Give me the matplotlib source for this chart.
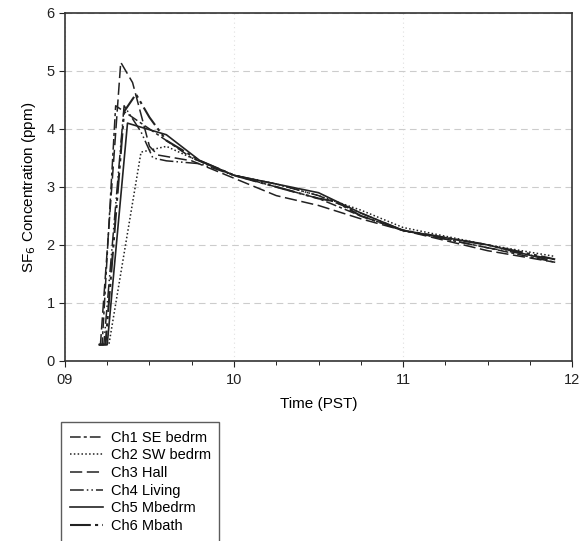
import matplotlib

matplotlib.use("Agg")

import matplotlib.pyplot as plt
from matplotlib.ticker import MultipleLocator, FixedLocator

plt.rcParams["font.family"] = ["Liberation Sans", "DejaVu Sans"]

# Time in decimal hours (PST), concentration in ppm
ch1_t = [9.20, 9.22, 9.30, 9.50, 9.75, 10.00, 10.25, 10.50, 10.75, 11.00, 11.25, 11.50, 11.90]
ch1_c = [0.28, 0.28, 4.40, 4.00, 3.50, 3.20, 3.00, 2.80, 2.50, 2.25, 2.10, 1.95, 1.70]

ch2_t = [9.22, 9.26, 9.45, 9.60, 9.75, 10.00, 10.25, 10.50, 10.75, 11.00, 11.25, 11.50, 11.90]
ch2_c = [0.28, 0.28, 3.60, 3.70, 3.50, 3.20, 3.05, 2.85, 2.60, 2.30, 2.15, 2.00, 1.80]

ch3_t = [9.20, 9.21, 9.33, 9.40, 9.50, 9.55, 9.75, 10.00, 10.25, 10.50, 10.75, 11.00, 11.50, 11.90]
ch3_c = [0.28, 0.28, 5.15, 4.80, 3.70, 3.55, 3.45, 3.15, 2.85, 2.68, 2.45, 2.25, 1.90, 1.70]

ch4_t = [9.20, 9.23, 9.35, 9.45, 9.52, 9.60, 9.80, 10.00, 10.25, 10.50, 10.75, 11.00, 11.25, 11.50, 11.90]
ch4_c = [0.28, 0.28, 4.40, 3.95, 3.50, 3.45, 3.40, 3.20, 3.05, 2.85, 2.55, 2.25, 2.10, 1.95, 1.75]

ch5_t = [9.21, 9.25, 9.37, 9.60, 9.80, 10.00, 10.25, 10.50, 10.75, 11.00, 11.50, 11.85]
ch5_c = [0.28, 0.28, 4.10, 3.90, 3.45, 3.20, 3.05, 2.90, 2.55, 2.25, 2.00, 1.75]

ch6_t = [9.20, 9.24, 9.35, 9.42, 9.50, 9.60, 9.80, 10.00, 10.25, 10.50, 10.60, 10.75, 11.00, 11.50, 11.90]
ch6_c = [0.28, 0.28, 4.30, 4.60, 4.20, 3.80, 3.45, 3.20, 3.00, 2.80, 2.75, 2.50, 2.25, 2.00, 1.75]

labels = ["Ch1 SE bedrm", "Ch2 SW bedrm", "Ch3 Hall", "Ch4 Living", "Ch5 Mbedrm", "Ch6 Mbath"]
x_ticks = [9, 10, 11, 12]
x_tick_labels = ["09", "10", "11", "12"]

fig = plt.figure(figsize=(5.85, 5.41), dpi=100)
ax = fig.add_axes([0.111, 0.333, 0.867, 0.643])

series = [
    (ch1_t, ch1_c, (0, (7, 2, 2, 2)), 1.1),
    (ch2_t, ch2_c, (0, (1, 1.5)), 1.1),
    (ch3_t, ch3_c, (0, (8, 3)), 1.1),
    (ch4_t, ch4_c, (0, (9, 2, 1, 2, 1, 2)), 1.1),
    (ch5_t, ch5_c, "-", 1.2),
    (ch6_t, ch6_c, (0, (10, 2, 1.5, 2, 1.5, 2)), 1.5),
]
for (t, c, ls, lw), lab in zip(series, labels):
    ax.plot(t, c, color="#222222", linestyle=ls, linewidth=lw, label=lab)

ax.set_xlim(9, 12)
ax.set_ylim(0, 6)
ax.xaxis.set_major_locator(FixedLocator(x_ticks))
ax.set_xticklabels(x_tick_labels)
ax.xaxis.set_minor_locator(MultipleLocator(0.25))
ax.yaxis.set_major_locator(MultipleLocator(1))
ax.tick_params(axis="both", which="major", direction="out", length=4, labelsize=10.5, colors="#222222")
ax.tick_params(axis="x", which="minor", direction="out", length=3)
ax.tick_params(axis="x", which="major", pad=5)

ax.grid(axis="y", color="#cccccc", linestyle=(0, (6, 4)), linewidth=0.8)
ax.grid(axis="x", color="#e0e0e0", linestyle=(0, (1, 3)), linewidth=0.8)
ax.set_axisbelow(True)

for spine in ax.spines.values():
    spine.set_color("#333333")
    spine.set_linewidth(1.2)

ax.set_xlabel("Time (PST)", fontsize=11, labelpad=7)
ax.set_ylabel("SF$_6$ Concentration (ppm)", fontsize=11, labelpad=6)

leg = fig.legend(
    loc="upper left",
    bbox_to_anchor=(61 / 585, (541 - 422) / 541),
    borderaxespad=0,
    fontsize=10.5,
    handlelength=2.3,
    handletextpad=0.5,
    labelspacing=0.25,
    borderpad=0.6,
    frameon=True,
    fancybox=False,
    edgecolor="#333333",
)
leg.get_frame().set_linewidth(1.0)

fig.savefig("out.png", dpi=100)
